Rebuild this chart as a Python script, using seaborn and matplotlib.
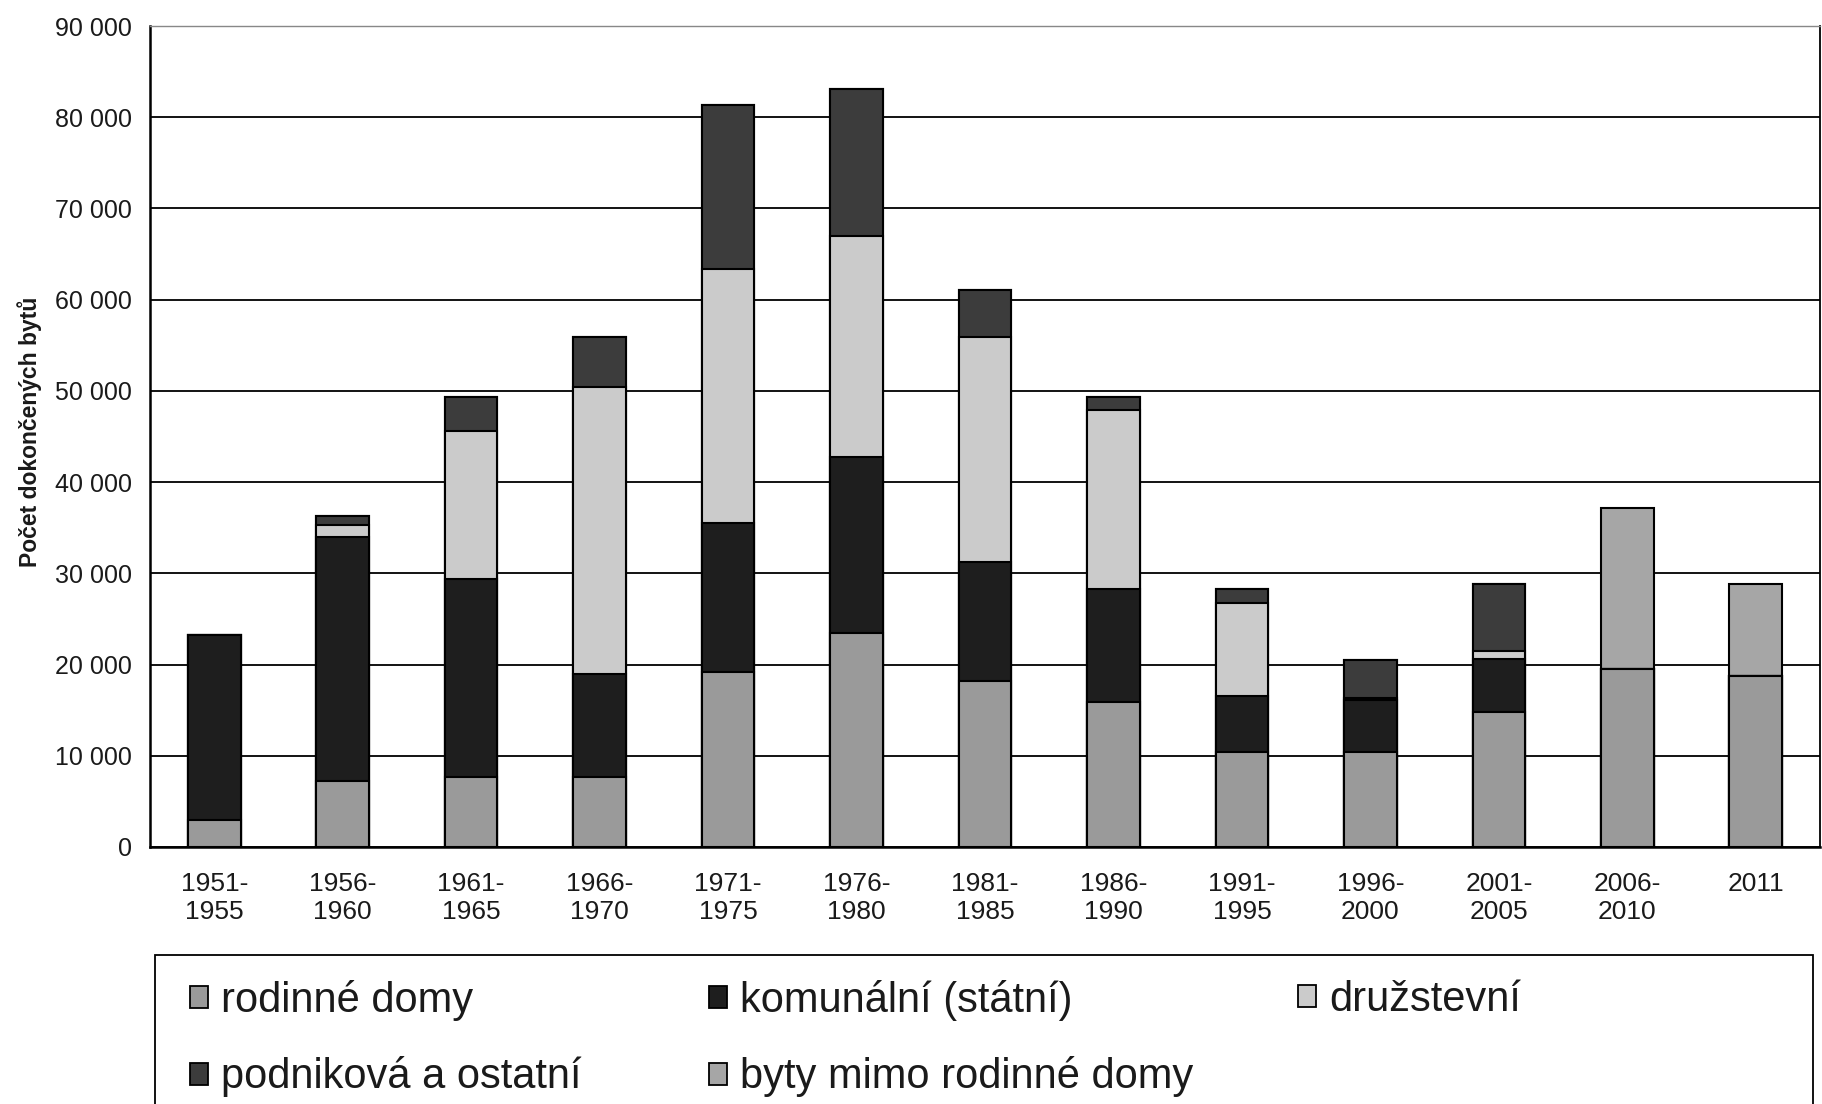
import numpy as np
import pandas as pd
import matplotlib
matplotlib.use("Agg")
import matplotlib.pyplot as plt
from matplotlib.patches import Patch, Rectangle
from matplotlib.ticker import FuncFormatter
import seaborn as sns

# data (number of completed dwellings)
periods = ['1951-\n1955', '1956-\n1960', '1961-\n1965', '1966-\n1970', '1971-\n1975',
           '1976-\n1980', '1981-\n1985', '1986-\n1990', '1991-\n1995', '1996-\n2000',
           '2001-\n2005', '2006-\n2010', '2011']
rodinne = [3000, 7200, 7700, 7700, 19200, 23500, 18200, 15900, 10400, 10400, 14800, 19500, 18700]
komunalni = [20200, 26800, 21700, 11300, 16300, 19300, 13000, 12400, 6200, 5700, 5800, 0, 0]
druzstevni = [0, 1300, 16200, 31400, 27900, 24200, 24700, 19600, 10100, 250, 900, 0, 0]
podnikova = [0, 1000, 3700, 5500, 17900, 16100, 5200, 1400, 1600, 4200, 7300, 0, 0]
byty_mimo = [0, 0, 0, 0, 0, 0, 0, 0, 0, 0, 0, 17700, 10100]

series = ['rodinné domy', 'komunální (státní)', 'družstevní',
          'podniková a ostatní', 'byty mimo rodinné domy']
colors = ['#9a9a9a', '#1e1e1e', '#cbcbcb', '#3c3c3c', '#a6a6a6']

df = pd.DataFrame({'obdobi': periods,
                   series[0]: rodinne, series[1]: komunalni, series[2]: druzstevni,
                   series[3]: podnikova, series[4]: byty_mimo})
cum = df[series].cumsum(axis=1)

sns.set_style("white")
plt.rcParams['font.family'] = ['Liberation Sans', 'DejaVu Sans']
txt = '#1a1a1a'

fig = plt.figure(figsize=(18.22, 11.04), dpi=100)
ax = fig.add_axes([150 / 1822, 1 - 847 / 1104, 1670 / 1822, 821 / 1104])

# stacked bars: draw cumulative totals from top layer down
for name, col in reversed(list(zip(series, colors))):
    sns.barplot(x=df['obdobi'], y=cum[name], color=col, saturation=1, width=0.41,
                edgecolor='black', linewidth=1.5, errorbar=None, ax=ax, zorder=3)

ax.set_xlim(-0.5, 12.5)
ax.set_ylim(0, 90000)
ax.set_xlabel('')
ax.set_ylabel('')
ax.set_yticks(np.arange(0, 90001, 10000))
ax.yaxis.set_major_formatter(FuncFormatter(lambda v, p: f"{v:,.0f}".replace(",", " ")))
ax.yaxis.grid(True, color='black', linewidth=1.3, zorder=0)
ax.yaxis.get_gridlines()[-1].set_color('#888888')
ax.set_axisbelow(True)

ax.set_xticks(np.arange(-0.5, 13, 1), minor=True)
ax.tick_params(axis='x', which='major', length=0, pad=18, labelsize=19, labelcolor=txt)
ax.tick_params(axis='x', which='minor', length=8, width=1.5, direction='out', color='black')
ax.tick_params(axis='y', which='major', length=8, width=1.5, direction='out', color='black',
               pad=5, labelsize=18, labelcolor=txt)

for s in ['left', 'bottom']:
    ax.spines[s].set_color('black')
    ax.spines[s].set_linewidth(1.8)
ax.spines['right'].set_color('black')
ax.spines['right'].set_linewidth(1.3)
ax.spines['top'].set_color('#888888')
ax.spines['top'].set_linewidth(1.0)

fig.text(30 / 1822, 1 - 432 / 1104, 'Počet dokončených bytů', rotation=90,
         ha='center', va='center', fontsize=16.5, fontweight='bold', color=txt)

# legend frame (cut by the bottom edge as in the source)
fig.add_artist(Rectangle((155 / 1822, -0.05), (1813 - 155) / 1822, (1 - 955 / 1104) + 0.05,
                         transform=fig.transFigure, fill=False, edgecolor='black', linewidth=1.3))

handles = {n: Patch(facecolor=c, edgecolor='black', linewidth=1.3, label=n)
           for n, c in zip(series, colors)}
columns = [([series[0], series[3]], 190), ([series[1], series[4]], 709), ([series[2]], 1298)]
for names, x0 in columns:
    fig.legend(handles=[handles[n] for n in names], loc='upper left',
               bbox_to_anchor=(x0 / 1822, 1 - 980 / 1104), frameon=False, ncol=1,
               fontsize=30, handlelength=0.44, handleheight=0.44, handletextpad=0.3,
               labelspacing=0.85, borderpad=0, borderaxespad=0, labelcolor=txt)

fig.savefig('out.png', dpi=100)
